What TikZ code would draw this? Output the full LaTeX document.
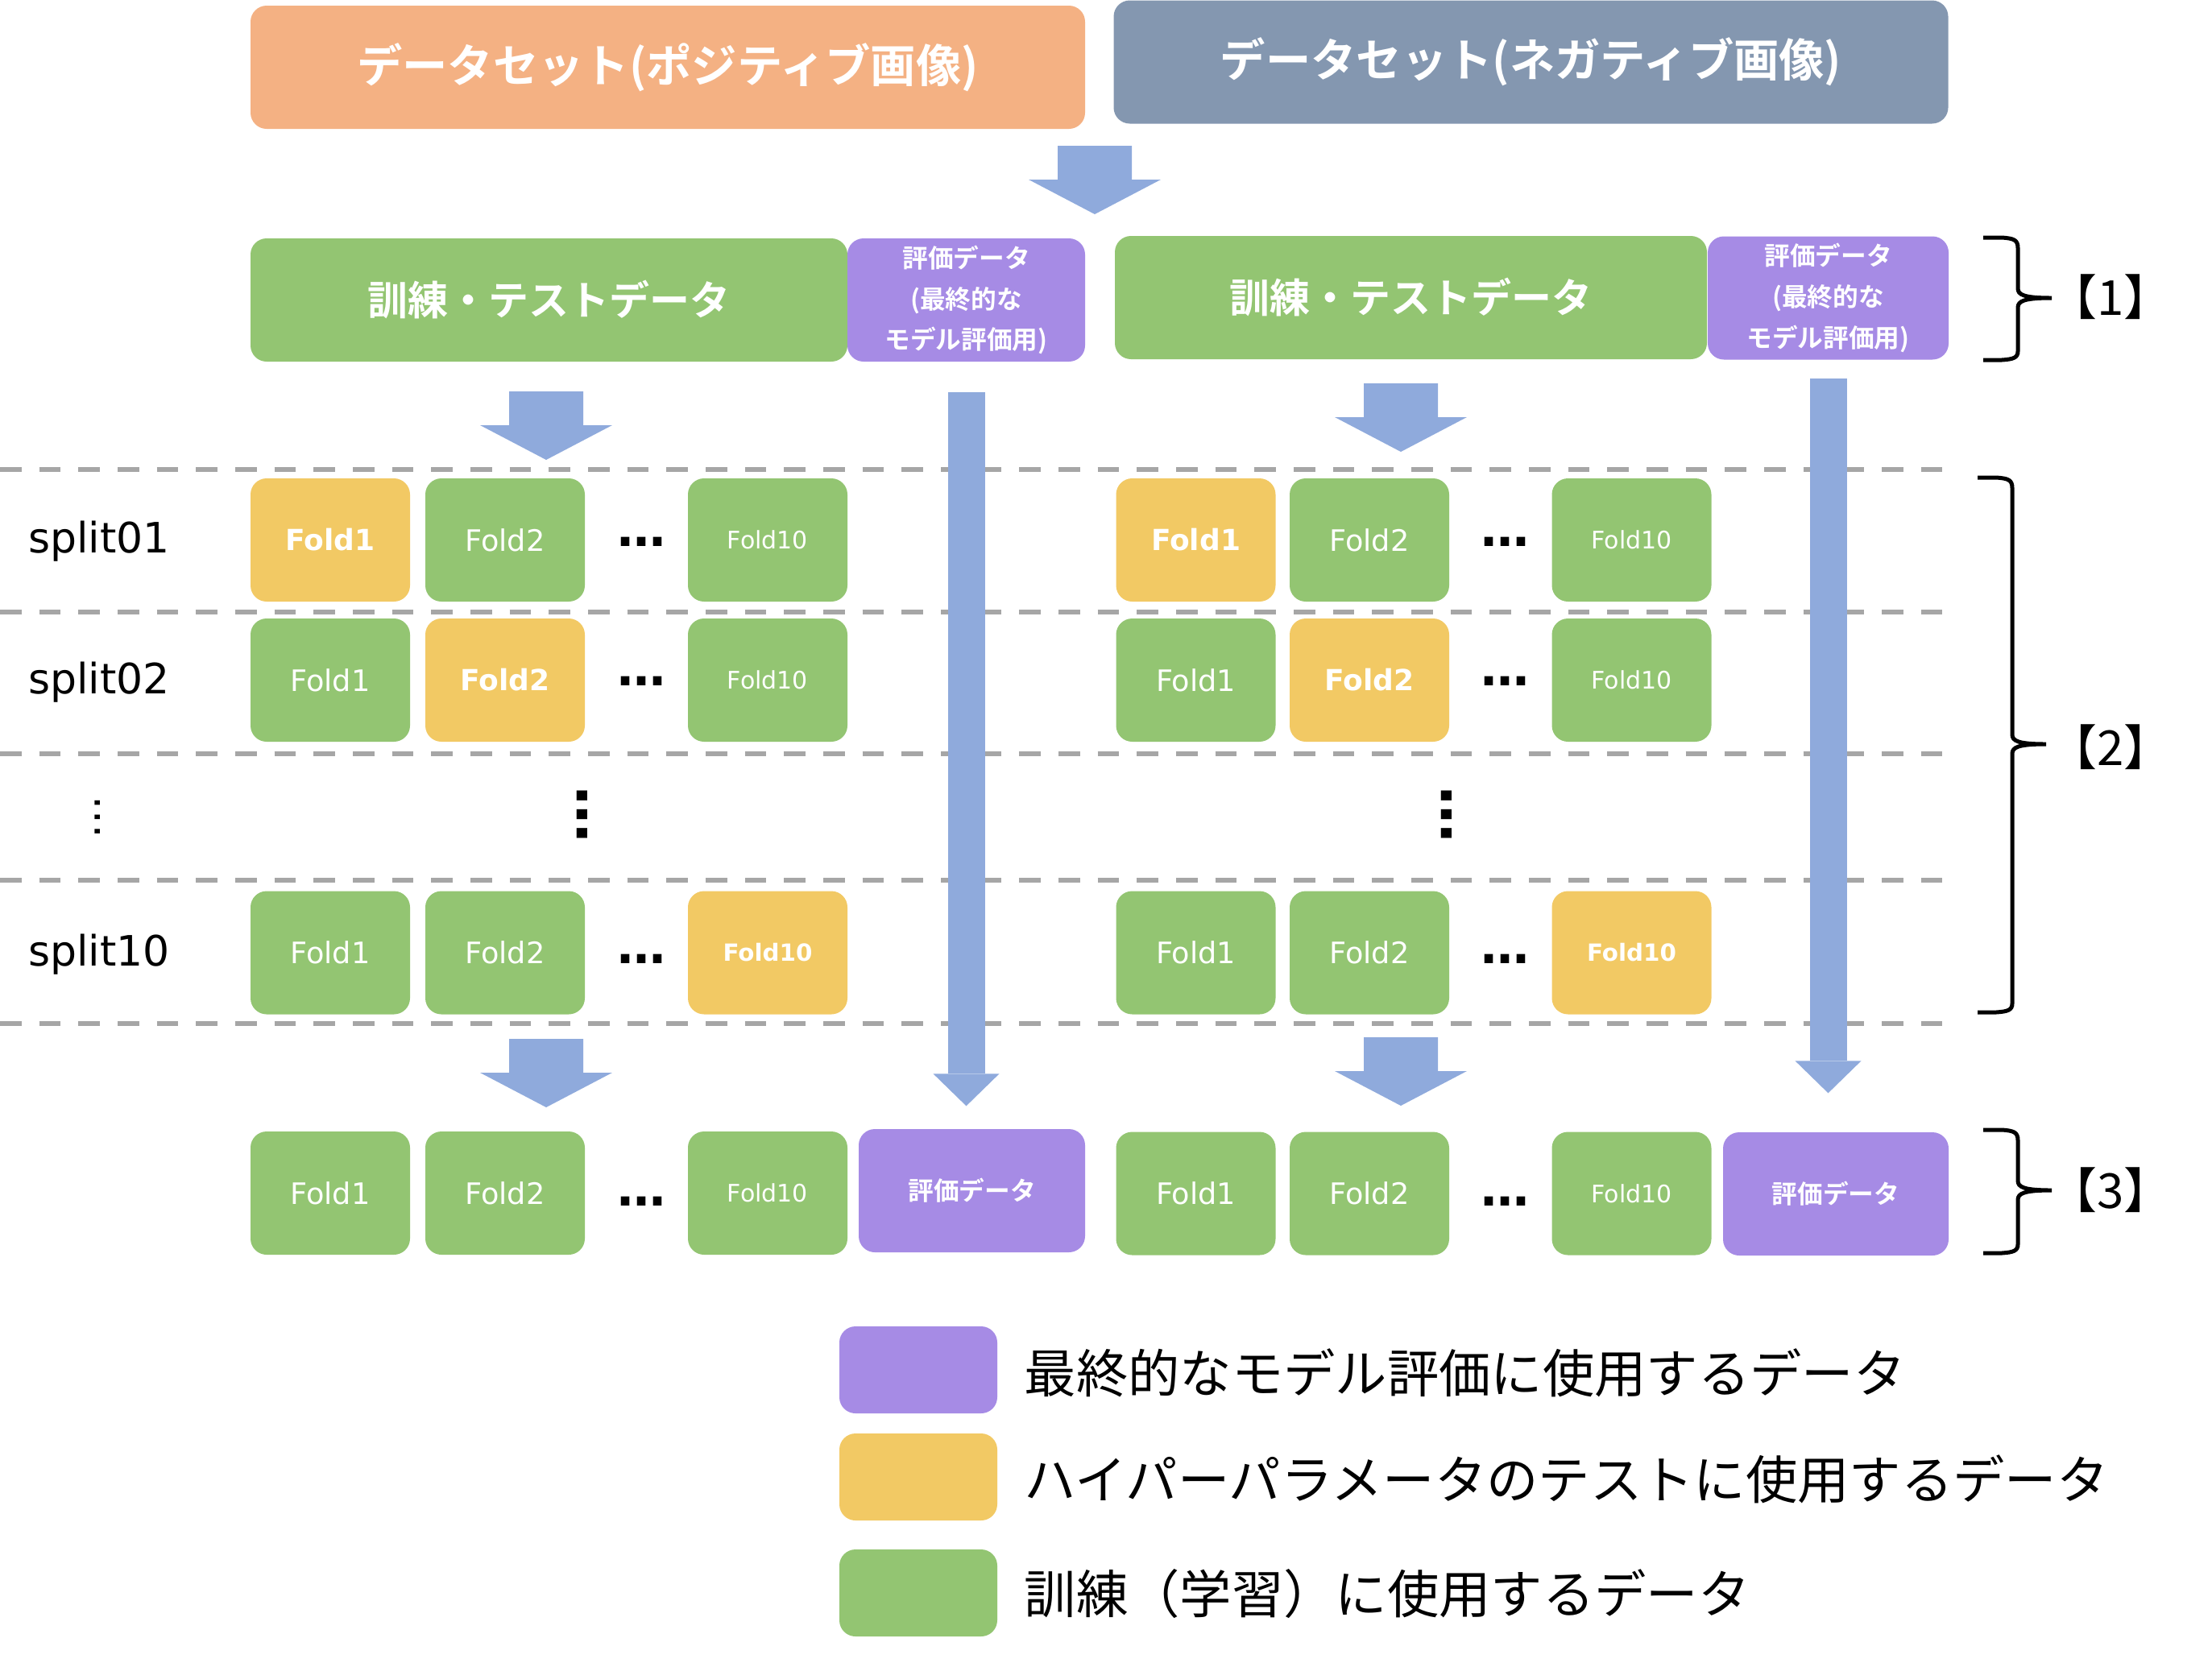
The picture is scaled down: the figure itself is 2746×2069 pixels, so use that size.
\documentclass[tikz,border=0pt]{standalone}
\usepackage{fontspec}
\setmainfont{Noto Sans CJK JP}[BoldFont={Noto Sans CJK JP Bold}]
\newfontfamily\latinfont{DejaVu Sans}
\usetikzlibrary{arrows.meta}

\definecolor{posorange}{HTML}{F4B183}
\definecolor{neggray}{HTML}{8497B0}
\definecolor{traingreen}{HTML}{93C572}
\definecolor{evalpurple}{HTML}{A68BE5}
\definecolor{testyellow}{HTML}{F2C964}
\definecolor{flowblue}{HTML}{8FAADC}
\definecolor{splitgray}{HTML}{A6A6A6}

\begin{document}
\begin{tikzpicture}[x=0.3pt, y=-0.3pt,
  box/.style={rounded corners=6pt, inner sep=0pt, minimum height=45.9pt, text=white},
  setbox/.style={box, minimum width=310.8pt, font=\bfseries\fontsize{16.9}{18}\selectfont},
  trainbox/.style={box, fill=traingreen, font=\bfseries\fontsize{15}{17}\selectfont},
  evalbox/.style={box, fill=evalpurple, align=center, font=\bfseries\fontsize{9.5}{15.2}\selectfont},
  fold/.style={box, fill=traingreen, minimum width=59.4pt, font=\latinfont\fontsize{11}{13}\selectfont},
  foldten/.style={fold, font=\latinfont\fontsize{9}{11}\selectfont},
  hyper/.style={fill=testyellow, font=\latinfont\bfseries\fontsize{10.8}{12}\selectfont},
  hyperten/.style={fill=testyellow, font=\latinfont\bfseries\fontsize{8.8}{10}\selectfont},
  hdots/.style={inner sep=0pt, font=\latinfont\bfseries\fontsize{18}{20}\selectfont},
  vdots/.style={inner sep=0pt, rotate=90, font=\latinfont\bfseries\fontsize{21}{23}\selectfont},
  splitlabel/.style={inner sep=0pt, font=\latinfont\fontsize{15.6}{17}\selectfont},
  partlabel/.style={inner sep=0pt, font=\fontsize{18}{20}\selectfont},
  legbox/.style={rounded corners=6pt, minimum width=58.8pt, minimum height=32.4pt},
  legtext/.style={inner sep=0pt, anchor=west, font=\fontsize{19.3}{21}\selectfont},
  sepline/.style={splitgray, line width=1.8pt, dash pattern=on 8pt off 6.6pt},
  longarrow/.style={flowblue, line width=13.8pt, -{Triangle[width=24.6pt,length=12pt,line width=0pt]}},
  brc/.style={line width=1.5pt},
  blockdown/.pic={\fill[flowblue] (-46,0) -- (46,0) -- (46,42) -- (82,42) -- (0,85) -- (-82,42) -- (-46,42) -- cycle;}]
\useasboundingbox (0,0) rectangle (2746,2069);

% datasets
\node[setbox, fill=posorange] (posset) at (829,83.5) {データセット(ポジティブ画像)};
\node[setbox, fill=neggray] (negset) at (1900.5,77) {データセット(ネガティブ画像)};
\pic at (1359,181) {blockdown};

% [1] split into train/test and evaluation data
\node[trainbox, minimum width=222.3pt] (trainp) at (681.5,372.5) {訓練・テストデータ};
\node[evalbox, minimum width=88.5pt] (evalp) at (1199.5,372.5) {評価データ\\(最終的な\\モデル評価用)};
\node[trainbox, minimum width=220.5pt] (trainn) at (1751.5,369.5) {訓練・テストデータ};
\node[evalbox, minimum width=89.7pt] (evaln) at (2269.5,370) {評価データ\\(最終的な\\モデル評価用)};
\pic at (678,486) {blockdown};
\pic at (1739,476) {blockdown};

% split separators
\draw[sepline] (0,583) -- (2416,583);
\draw[sepline] (0,760) -- (2416,760);
\draw[sepline] (0,936) -- (2416,936);
\draw[sepline] (0,1093) -- (2416,1093);
\draw[sepline] (0,1271) -- (2416,1271);

% [2] cross validation splits
\node[splitlabel] (splita) at (123,672) {split01};
\node[splitlabel] (splitb) at (123,847) {split02};
\node[splitlabel, rotate=90, font=\latinfont\fontsize{16}{18}\selectfont] (splitdots) at (121,1015) {…};
\node[splitlabel] (splitc) at (123,1185) {split10};

\node[fold, hyper] (pa1) at (410,670.5) {Fold1};
\node[fold] (pa2) at (627,670.5) {Fold2};
\node[hdots] (pad) at (796,673) {…};
\node[foldten] (pa10) at (953,670.5) {Fold10};
\node[fold, hyper] (na1) at (1484.5,670.5) {Fold1};
\node[fold] (na2) at (1700,670.5) {Fold2};
\node[hdots] (nad) at (1868,673) {…};
\node[foldten] (na10) at (2025.5,670.5) {Fold10};

\node[fold] (pb1) at (410,844.5) {Fold1};
\node[fold, hyper] (pb2) at (627,844.5) {Fold2};
\node[hdots] (pbd) at (796,846) {…};
\node[foldten] (pb10) at (953,844.5) {Fold10};
\node[fold] (nb1) at (1484.5,844.5) {Fold1};
\node[fold, hyper] (nb2) at (1700,844.5) {Fold2};
\node[hdots] (nbd) at (1868,846) {…};
\node[foldten] (nb10) at (2025.5,844.5) {Fold10};

\node[vdots] (pvd) at (723,1011) {…};
\node[vdots] (nvd) at (1796,1011) {…};

\node[fold] (pc1) at (410,1183) {Fold1};
\node[fold] (pc2) at (627,1183) {Fold2};
\node[hdots] (pcd) at (796,1191) {…};
\node[foldten, hyperten] (pc10) at (953,1183) {Fold10};
\node[fold] (nc1) at (1484.5,1183) {Fold1};
\node[fold] (nc2) at (1700,1183) {Fold2};
\node[hdots] (ncd) at (1868,1191) {…};
\node[foldten, hyperten] (nc10) at (2025.5,1183) {Fold10};

\pic at (678,1290) {blockdown};
\pic at (1739,1288) {blockdown};

% [3] folds and evaluation data
\node[fold] (pd1) at (410,1481.5) {Fold1};
\node[fold] (pd2) at (627,1481.5) {Fold2};
\node[hdots] (pdd) at (796,1492) {…};
\node[foldten] (pd10) at (953,1481.5) {Fold10};
\node[box, fill=evalpurple, minimum width=84.3pt, font=\bfseries\fontsize{9.5}{11}\selectfont] (evalpb) at (1206.5,1478.5) {評価データ};
\node[fold] (nd1) at (1484.5,1482) {Fold1};
\node[fold] (nd2) at (1700,1482) {Fold2};
\node[hdots] (ndd) at (1868,1492) {…};
\node[foldten] (nd10) at (2025.5,1482) {Fold10};
\node[box, fill=evalpurple, minimum width=84pt, font=\bfseries\fontsize{9.5}{11}\selectfont] (evalnb) at (2279,1482.5) {評価データ};

% evaluation data passes straight down
\coordinate (pend) at (evalp.south |- evalpb.north);
\coordinate (nend) at (evaln.south |- evalnb.north);
\draw[longarrow] ([yshift=-11.1pt]evalp.south) -- ([yshift=8.4pt]pend);
\draw[longarrow] ([yshift=-6.9pt]evaln.south) -- ([yshift=14.4pt]nend);

% braces
\draw[brc] (2462,295) -- (2485,295) .. controls (2500,296) and (2505,298) .. (2505,308) -- (2505,358)
  .. controls (2505,366) and (2512,370) .. (2547,370) .. controls (2512,370) and (2505,374) .. (2505,382)
  -- (2505,436) .. controls (2505,444) and (2500,446) .. (2485,447) -- (2462,447);
\draw[brc] (2455,593) -- (2478,593) .. controls (2493,594) and (2498,596) .. (2498,606) -- (2498,912)
  .. controls (2498,920) and (2505,924) .. (2540,924) .. controls (2505,924) and (2498,928) .. (2498,936)
  -- (2498,1246) .. controls (2498,1254) and (2493,1256) .. (2478,1257) -- (2455,1257);
\draw[brc] (2462,1403) -- (2485,1403) .. controls (2500,1404) and (2505,1406) .. (2505,1416) -- (2505,1466)
  .. controls (2505,1474) and (2512,1478) .. (2547,1478) .. controls (2512,1478) and (2505,1482) .. (2505,1490)
  -- (2505,1545) .. controls (2505,1553) and (2500,1555) .. (2485,1556) -- (2462,1556);
\node[partlabel] (lab1) at (2620,369) {【1】};
\node[partlabel] (lab2) at (2620,928) {【2】};
\node[partlabel] (lab3) at (2620,1478) {【3】};

% legend
\node[legbox, fill=evalpurple] (legeval) at (1140,1701) {};
\node[legtext] (legevaltext) at (1271,1705) {最終的なモデル評価に使用するデータ};
\node[legbox, fill=testyellow] (leghyper) at (1140,1834) {};
\node[legtext] (leghypertext) at (1271,1837) {ハイパーパラメータのテストに使用するデータ};
\node[legbox, fill=traingreen] (legtrain) at (1140,1978) {};
\node[legtext] (legtraintext) at (1271,1979) {訓練（学習）に使用するデータ};
\end{tikzpicture}
\end{document}
